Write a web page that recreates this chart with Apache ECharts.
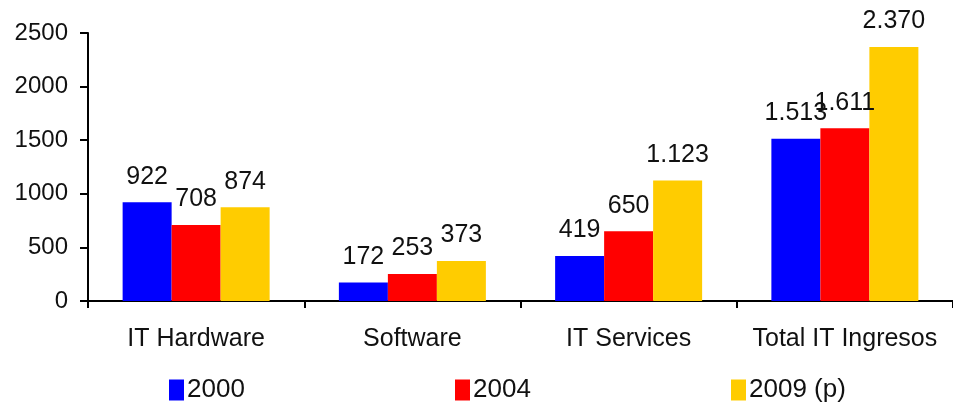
<!DOCTYPE html>
<html>
<head>
<meta charset="utf-8">
<script src="https://cdn.jsdelivr.net/npm/echarts@6/dist/echarts.min.js"></script>
<style>
  html, body { margin: 0; padding: 0; background: #ffffff; }
  #chart { width: 953px; height: 404px; }
</style>
</head>
<body>
<div id="chart"></div>
<script>
// Revenue by segment, three reference years
const categories = ['IT Hardware', 'Software', 'IT Services', 'Total IT Ingresos'];
const seriesNames = ['2000', '2004', '2009 (p)'];
const values2000 = [922, 172, 419, 1513];
const values2004 = [708, 253, 650, 1611];
const values2009 = [874, 373, 1123, 2370];
const yTicks = [0, 500, 1000, 1500, 2000, 2500];

const colors = ['#0000ff', '#ff0000', '#ffcc00'];
const font = '"Liberation Sans", Arial, sans-serif';
const legendLeft = [164, 450, 726];

// Thousands separator as a dot: 1513 -> "1.513"
function fmt(v) {
  return String(v).replace(/\B(?=(\d{3})+(?!\d))/g, '.');
}

const chart = echarts.init(document.getElementById('chart'), null, { renderer: 'canvas' });

function barSeries(name, data, color) {
  return {
    name: name,
    type: 'bar',
    data: data,
    barWidth: 49,
    barGap: '0%',
    itemStyle: { color: color },
    label: {
      show: true,
      position: 'top',
      distance: 13,
      formatter: p => fmt(p.value),
      color: '#111',
      fontSize: 25,
      fontFamily: font
    },
    emphasis: { disabled: true }
  };
}

// One legend entry per series, each placed on its own
const legends = seriesNames.map((name, i) => ({
  data: [name],
  left: legendLeft[i],
  top: 372,
  itemWidth: 15,
  itemHeight: 21,
  icon: 'rect',
  textStyle: { color: '#111', fontSize: 26, fontFamily: font, padding: [0, 0, 0, -2] }
}));

chart.setOption({
  animation: false,
  backgroundColor: '#ffffff',
  grid: { left: 88, right: -13, top: 33, bottom: 103, containLabel: false },
  legend: legends,
  xAxis: {
    type: 'category',
    data: categories,
    axisLine: { lineStyle: { color: '#000', width: 2 } },
    axisTick: { show: true, length: 7, lineStyle: { color: '#000', width: 2 } },
    axisLabel: { color: '#111', fontSize: 25, fontFamily: font, margin: 26, interval: 0 },
    splitLine: { show: false }
  },
  yAxis: {
    type: 'value',
    min: yTicks[0],
    max: yTicks[yTicks.length - 1],
    interval: yTicks[1] - yTicks[0],
    axisLine: { show: true, lineStyle: { color: '#000', width: 2 } },
    axisTick: { show: true, length: 8, lineStyle: { color: '#000', width: 2 } },
    axisLabel: { color: '#111', fontSize: 24, fontFamily: font, margin: 20, formatter: v => String(v) },
    splitLine: { show: false }
  },
  series: [
    barSeries(seriesNames[0], values2000, colors[0]),
    barSeries(seriesNames[1], values2004, colors[1]),
    barSeries(seriesNames[2], values2009, colors[2])
  ]
});
</script>
</body>
</html>
